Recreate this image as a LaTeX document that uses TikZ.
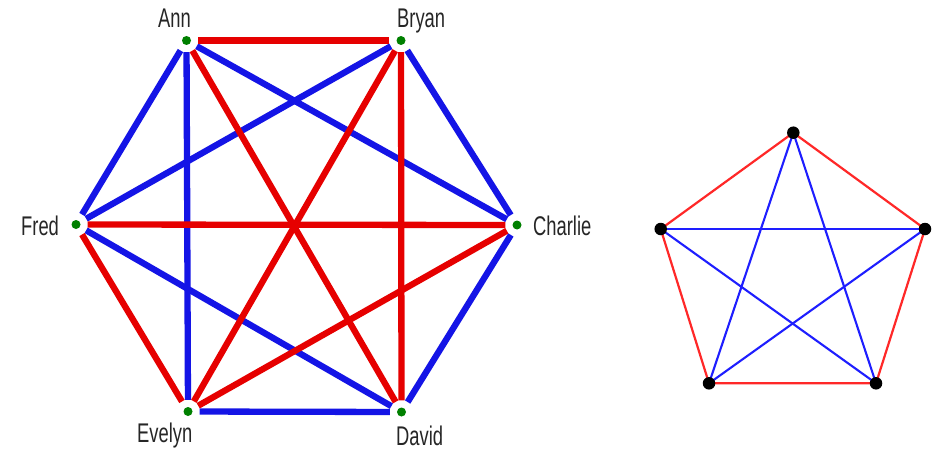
\documentclass[tikz,border=0pt]{standalone}
\usepackage{fontspec}
\setmainfont{Liberation Sans}
\definecolor{gred}{RGB}{230,0,0}
\definecolor{gblue}{RGB}{20,20,230}
\definecolor{ggreen}{RGB}{0,128,0}
\definecolor{pred}{RGB}{255,40,40}
\definecolor{pblue}{RGB}{30,30,255}
\begin{document}
\begin{tikzpicture}[x=1pt,y=-1pt,
  vdot/.style={circle,fill=ggreen,inner sep=0pt,minimum size=9pt},
  pdot/.style={circle,fill=black,inner sep=0pt,minimum size=12.5pt},
  lbl/.style={inner sep=0pt,anchor=base west,text=black!85,font=\fontsize{27}{27}\selectfont},
  redge/.style={draw=gred,line width=6.3pt,shorten <=7pt,shorten >=7pt},
  bedge/.style={draw=gblue,line width=6.3pt,shorten <=7pt,shorten >=7pt},
  pr/.style={draw=pred,line width=2.2pt},
  pb/.style={draw=pblue,line width=2.1pt}]
\useasboundingbox (0,0) rectangle (941,452);
\fill[white] (0,0) rectangle (941,452);
% left graph vertices
\node[vdot] (A) at (186.5,40.5) {};
\node[vdot] (B) at (401,40.5) {};
\node[vdot] (C) at (517,225) {};
\node[vdot] (D) at (401.5,412) {};
\node[vdot] (E) at (188,411.5) {};
\node[vdot] (F) at (76,224.5) {};
% labels
\node[lbl] (lA) at (158,28) {\scalebox{0.68}[1]{Ann}};
\node[lbl] (lB) at (397,28) {\scalebox{0.68}[1]{Bryan}};
\node[lbl] (lC) at (533,235) {\scalebox{0.68}[1]{Charlie}};
\node[lbl] (lD) at (396,445) {\scalebox{0.68}[1]{David}};
\node[lbl] (lE) at (137,442) {\scalebox{0.68}[1]{Evelyn}};
\node[lbl] (lF) at (21,235) {\scalebox{0.68}[1]{Fred}};
% edges
\draw[bedge] (A) -- (F);
\draw[bedge] (A) -- (E);
\draw[bedge] (A) -- (C);
\draw[bedge] (B) -- (F);
\draw[bedge] (B) -- (C);
\draw[bedge] (C) -- (D);
\draw[bedge] (D) -- (E);
\draw[bedge] (D) -- (F);
\draw[redge] (A) -- (B);
\draw[redge] (A) -- (D);
\draw[redge] (B) -- (E);
\draw[redge] (B) -- (D);
\draw[redge] (C) -- (F);
\draw[redge] (C) -- (E);
\draw[redge] (E) -- (F);
% right graph
\coordinate (P1) at (793.3,132.7);
\coordinate (P2) at (925,229);
\coordinate (P3) at (876,383.3);
\coordinate (P4) at (709,383.3);
\coordinate (P5) at (660.7,229);
\draw[pr] (P1) -- (P2) -- (P3) -- (P4) -- (P5) -- cycle;
\draw[pb] (P1) -- (P3);
\draw[pb] (P1) -- (P4);
\draw[pb] (P2) -- (P4);
\draw[pb] (P5) -- (P2);
\draw[pb] (P3) -- (P5);
\foreach \p in {P1,P2,P3,P4,P5} \node[pdot] (d\p) at (\p) {};
\end{tikzpicture}
\end{document}
